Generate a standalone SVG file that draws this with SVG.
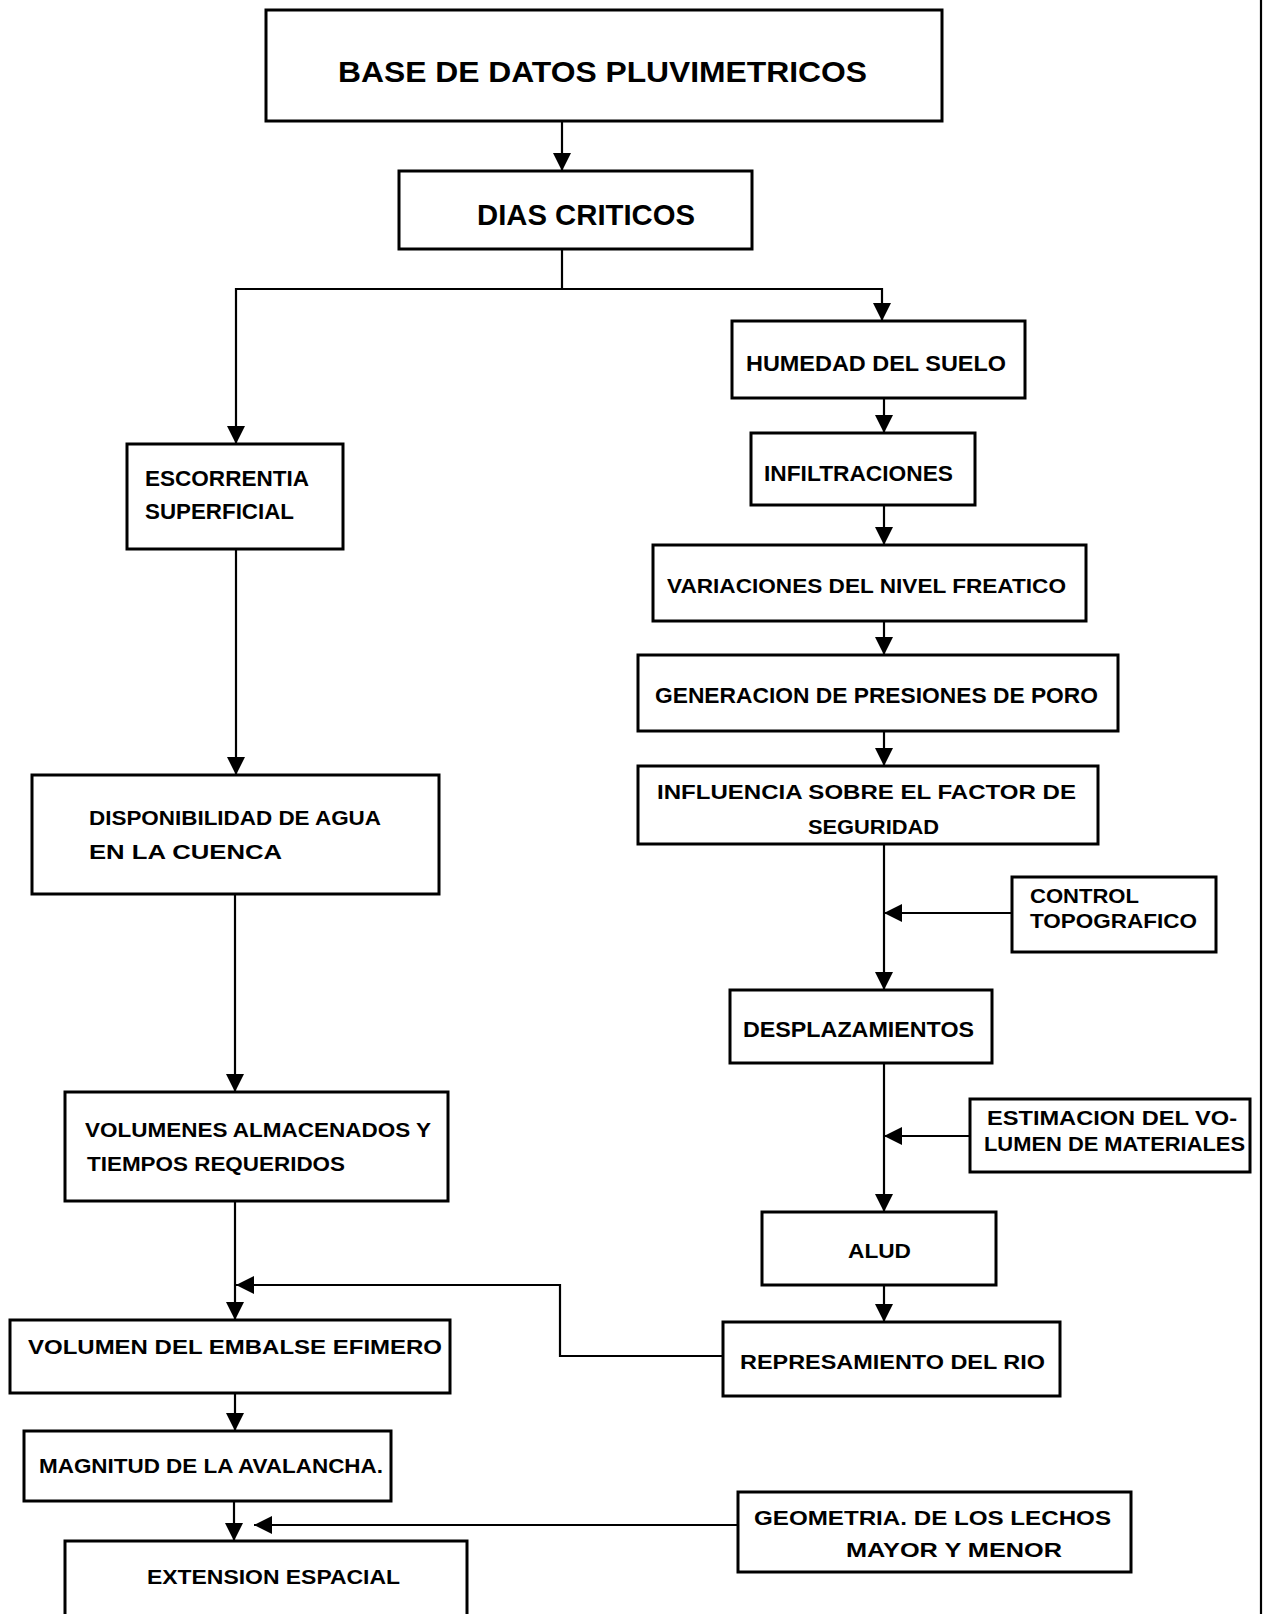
<svg xmlns="http://www.w3.org/2000/svg" width="1264" height="1614" viewBox="0 0 1264 1614">
<style>
  .box rect { fill: #fff; stroke: #000; stroke-width: 3; }
  text { font-family: "Liberation Sans", Arial, sans-serif; font-weight: bold; fill: #000; }
  .t30 { font-size: 30px; }
  .t22 { font-size: 22px; }
  .t21 { font-size: 21px; }
  .t20 { font-size: 20px; }
  .conn path { fill: none; stroke: #000; stroke-width: 2.2; }
</style>
<defs>
  <marker id="ah" markerUnits="userSpaceOnUse" markerWidth="20" markerHeight="20" refX="18" refY="10" orient="auto">
    <path d="M0,1 L18,10 L0,19 z" fill="#000"/>
  </marker>
</defs>
<rect x="0" y="0" width="1264" height="1614" fill="#fff"/>

<g class="conn">
  <path d="M562,121 V171" marker-end="url(#ah)"/>
  <path d="M562,249 V289 H882 V321" marker-end="url(#ah)"/>
  <path d="M562,289 H236 V444" marker-end="url(#ah)"/>
  <path d="M884,398 V433" marker-end="url(#ah)"/>
  <path d="M884,505 V545" marker-end="url(#ah)"/>
  <path d="M884,621 V655" marker-end="url(#ah)"/>
  <path d="M884,731 V766" marker-end="url(#ah)"/>
  <path d="M884,844 V990" marker-end="url(#ah)"/>
  <path d="M1012,913 H884" marker-end="url(#ah)"/>
  <path d="M884,1063 V1212" marker-end="url(#ah)"/>
  <path d="M970,1136 H884" marker-end="url(#ah)"/>
  <path d="M884,1285 V1322" marker-end="url(#ah)"/>
  <path d="M723,1356 H560 V1285 H236" marker-end="url(#ah)"/>
  <path d="M236,549 V775" marker-end="url(#ah)"/>
  <path d="M235,894 V1092" marker-end="url(#ah)"/>
  <path d="M235,1201 V1320" marker-end="url(#ah)"/>
  <path d="M235,1393 V1431" marker-end="url(#ah)"/>
  <path d="M234,1501 V1541" marker-end="url(#ah)"/>
  <path d="M738,1525 H254" marker-end="url(#ah)"/>
  <path d="M1261,0 V1614"/>
</g>

<g id="base" class="box">
  <rect x="266" y="10" width="676" height="111"/>
  <text class="t30" x="338" y="82" textLength="529" lengthAdjust="spacingAndGlyphs">BASE  DE  DATOS PLUVIMETRICOS</text>
</g>
<g id="dias" class="box">
  <rect x="399" y="171" width="353" height="78"/>
  <text class="t30" x="477" y="225" textLength="218" lengthAdjust="spacingAndGlyphs">DIAS  CRITICOS</text>
</g>
<g id="humedad" class="box">
  <rect x="732" y="321" width="293" height="77"/>
  <text class="t22" x="746" y="370.5" textLength="260" lengthAdjust="spacingAndGlyphs">HUMEDAD DEL SUELO</text>
</g>
<g id="infiltraciones" class="box">
  <rect x="751" y="433" width="224" height="72"/>
  <text class="t22" x="764" y="481" textLength="189" lengthAdjust="spacingAndGlyphs">INFILTRACIONES</text>
</g>
<g id="escorrentia" class="box">
  <rect x="127" y="444" width="216" height="105"/>
  <text class="t22" x="145" y="486" textLength="164" lengthAdjust="spacingAndGlyphs">ESCORRENTIA</text>
  <text class="t22" x="145" y="519" textLength="149" lengthAdjust="spacingAndGlyphs">SUPERFICIAL</text>
</g>
<g id="variaciones" class="box">
  <rect x="653" y="545" width="433" height="76"/>
  <text class="t21" x="667" y="592.5" textLength="399" lengthAdjust="spacingAndGlyphs">VARIACIONES  DEL  NIVEL  FREATICO</text>
</g>
<g id="generacion" class="box">
  <rect x="638" y="655" width="480" height="76"/>
  <text class="t22" x="655" y="703" textLength="443" lengthAdjust="spacingAndGlyphs">GENERACION  DE  PRESIONES  DE  PORO</text>
</g>
<g id="influencia" class="box">
  <rect x="638" y="766" width="460" height="78"/>
  <text class="t21" x="657" y="798.5" textLength="419" lengthAdjust="spacingAndGlyphs">INFLUENCIA  SOBRE EL  FACTOR  DE</text>
  <text class="t21" x="808" y="833.5" textLength="131" lengthAdjust="spacingAndGlyphs">SEGURIDAD</text>
</g>
<g id="control" class="box">
  <rect x="1012" y="877" width="204" height="75"/>
  <text class="t20" x="1030" y="903" textLength="109" lengthAdjust="spacingAndGlyphs">CONTROL</text>
  <text class="t20" x="1030" y="927.5" textLength="167" lengthAdjust="spacingAndGlyphs">TOPOGRAFICO</text>
</g>
<g id="desplazamientos" class="box">
  <rect x="730" y="990" width="262" height="73"/>
  <text class="t22" x="743" y="1037" textLength="231" lengthAdjust="spacingAndGlyphs">DESPLAZAMIENTOS</text>
</g>
<g id="disponibilidad" class="box">
  <rect x="32" y="775" width="407" height="119"/>
  <text class="t21" x="89" y="824.5" textLength="292" lengthAdjust="spacingAndGlyphs">DISPONIBILIDAD DE  AGUA</text>
  <text class="t21" x="89" y="859" textLength="193" lengthAdjust="spacingAndGlyphs">EN  LA  CUENCA</text>
</g>
<g id="volumenes" class="box">
  <rect x="65" y="1092" width="383" height="109"/>
  <text class="t21" x="85" y="1136.5" textLength="346" lengthAdjust="spacingAndGlyphs">VOLUMENES ALMACENADOS  Y</text>
  <text class="t21" x="87" y="1170.5" textLength="258" lengthAdjust="spacingAndGlyphs">TIEMPOS  REQUERIDOS</text>
</g>
<g id="estimacion" class="box">
  <rect x="970" y="1099" width="280" height="73"/>
  <text class="t20" x="987" y="1124.5" textLength="250" lengthAdjust="spacingAndGlyphs">ESTIMACION  DEL  VO-</text>
  <text class="t20" x="984" y="1150.5" textLength="261" lengthAdjust="spacingAndGlyphs">LUMEN DE MATERIALES</text>
</g>
<g id="alud" class="box">
  <rect x="762" y="1212" width="234" height="73"/>
  <text class="t21" x="848" y="1257.5" textLength="63" lengthAdjust="spacingAndGlyphs">ALUD</text>
</g>
<g id="represamiento" class="box">
  <rect x="723" y="1322" width="337" height="74"/>
  <text class="t21" x="740" y="1368.5" textLength="305" lengthAdjust="spacingAndGlyphs">REPRESAMIENTO  DEL  RIO</text>
</g>
<g id="embalse" class="box">
  <rect x="10" y="1320" width="440" height="73"/>
  <text class="t21" x="28" y="1353.5" textLength="414" lengthAdjust="spacingAndGlyphs">VOLUMEN  DEL  EMBALSE  EFIMERO</text>
</g>
<g id="magnitud" class="box">
  <rect x="24" y="1431" width="367" height="70"/>
  <text class="t21" x="39" y="1473" textLength="344" lengthAdjust="spacingAndGlyphs">MAGNITUD  DE  LA AVALANCHA.</text>
</g>
<g id="extension" class="box">
  <rect x="65" y="1541" width="402" height="80"/>
  <text class="t21" x="147" y="1584" textLength="253" lengthAdjust="spacingAndGlyphs">EXTENSION  ESPACIAL</text>
</g>
<g id="geometria" class="box">
  <rect x="738" y="1492" width="393" height="80"/>
  <text class="t21" x="754" y="1525" textLength="357" lengthAdjust="spacingAndGlyphs">GEOMETRIA. DE  LOS  LECHOS</text>
  <text class="t21" x="846" y="1556.5" textLength="216" lengthAdjust="spacingAndGlyphs">MAYOR  Y  MENOR</text>
</g>
</svg>
